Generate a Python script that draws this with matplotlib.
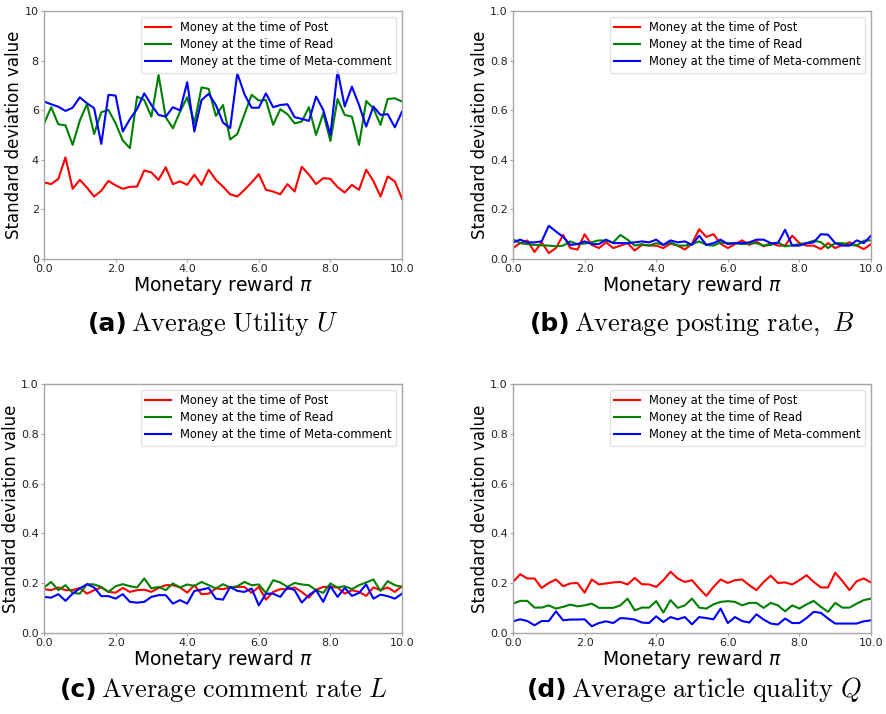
import numpy as np
import matplotlib
matplotlib.use("Agg")
import matplotlib.pyplot as plt

# Monetary reward grid (step 0.2)
reward = np.round(np.arange(51) * 0.2, 1)

series_labels = ["Money at the time of Post",
                 "Money at the time of Read",
                 "Money at the time of Meta-comment"]
series_colors = ["red", "green", "blue"]

# (a) Average utility U
utility_post = [3.09, 3.02, 3.23, 4.10, 2.83, 3.19, 2.88, 2.52, 2.75, 3.15,
                2.97, 2.83, 2.91, 2.92, 3.57, 3.49, 3.19, 3.70, 3.02, 3.13,
                2.99, 3.40, 2.99, 3.60, 3.19, 2.92, 2.61, 2.52, 2.79, 3.09,
                3.42, 2.79, 2.72, 2.61, 3.02, 2.72, 3.72, 3.40, 3.02, 3.26,
                3.23, 2.90, 2.68, 2.99, 2.79, 3.60, 3.15, 2.52, 3.33, 3.13,
                2.43]
utility_read = [5.45, 6.12, 5.43, 5.39, 4.60, 5.58, 6.25, 5.04, 5.92, 6.01,
                5.47, 4.78, 4.47, 6.55, 6.41, 5.74, 7.42, 5.72, 5.27, 5.94,
                6.52, 5.47, 6.92, 6.86, 5.77, 6.21, 4.82, 5.04, 5.84, 6.62,
                6.39, 6.41, 5.41, 6.04, 5.84, 5.47, 5.54, 6.12, 5.00, 5.88,
                4.76, 6.45, 5.81, 5.74, 4.60, 6.37, 6.08, 5.41, 6.45, 6.48,
                6.35]
utility_meta = [6.35, 6.24, 6.14, 5.97, 6.10, 6.52, 6.28, 6.08, 4.64, 6.62,
                6.59, 5.14, 5.64, 6.05, 6.68, 6.21, 5.81, 5.74, 6.12, 5.99,
                7.13, 5.14, 6.41, 6.66, 6.21, 5.50, 5.28, 7.49, 6.64, 6.10,
                6.10, 6.68, 6.12, 6.21, 6.24, 5.72, 5.65, 5.57, 6.55, 6.01,
                5.00, 7.60, 6.15, 6.95, 6.21, 5.34, 6.15, 5.81, 5.84, 5.31,
                5.94]

# (b) Average posting rate B
posting_post = [0.044, 0.064, 0.075, 0.028, 0.067, 0.024, 0.044, 0.097, 0.044, 0.038,
                0.100, 0.057, 0.044, 0.067, 0.044, 0.054, 0.064, 0.034, 0.057, 0.054,
                0.054, 0.044, 0.062, 0.054, 0.038, 0.062, 0.120, 0.089, 0.100, 0.062,
                0.044, 0.060, 0.075, 0.057, 0.071, 0.051, 0.064, 0.054, 0.054, 0.094,
                0.064, 0.054, 0.054, 0.040, 0.064, 0.044, 0.057, 0.067, 0.054, 0.040,
                0.060]
posting_read = [0.080, 0.064, 0.060, 0.057, 0.055, 0.054, 0.051, 0.054, 0.071, 0.060,
                0.062, 0.068, 0.075, 0.074, 0.067, 0.097, 0.078, 0.054, 0.060, 0.054,
                0.064, 0.057, 0.067, 0.054, 0.054, 0.060, 0.071, 0.057, 0.054, 0.067,
                0.064, 0.064, 0.060, 0.062, 0.064, 0.054, 0.057, 0.067, 0.051, 0.055,
                0.060, 0.064, 0.074, 0.068, 0.044, 0.064, 0.064, 0.057, 0.054, 0.074,
                0.075]
posting_meta = [0.067, 0.078, 0.067, 0.067, 0.071, 0.134, 0.111, 0.089, 0.057, 0.060,
                0.071, 0.060, 0.060, 0.078, 0.064, 0.064, 0.064, 0.067, 0.071, 0.067,
                0.078, 0.057, 0.075, 0.067, 0.071, 0.057, 0.094, 0.057, 0.064, 0.078,
                0.060, 0.064, 0.064, 0.067, 0.078, 0.078, 0.064, 0.064, 0.118, 0.054,
                0.054, 0.064, 0.067, 0.100, 0.098, 0.064, 0.054, 0.054, 0.075, 0.064,
                0.094]

# (c) Average comment rate L
comment_post = [0.176, 0.172, 0.183, 0.172, 0.172, 0.181, 0.158, 0.172, 0.183, 0.165,
                0.162, 0.181, 0.165, 0.172, 0.174, 0.165, 0.181, 0.192, 0.192, 0.183,
                0.162, 0.192, 0.156, 0.158, 0.179, 0.176, 0.183, 0.185, 0.185, 0.161,
                0.185, 0.134, 0.165, 0.176, 0.176, 0.183, 0.165, 0.142, 0.174, 0.185,
                0.185, 0.183, 0.158, 0.172, 0.165, 0.149, 0.183, 0.172, 0.183, 0.165,
                0.188]
comment_read = [0.183, 0.205, 0.172, 0.192, 0.161, 0.158, 0.196, 0.195, 0.185, 0.165,
                0.188, 0.196, 0.188, 0.183, 0.219, 0.179, 0.185, 0.172, 0.199, 0.183,
                0.195, 0.189, 0.205, 0.192, 0.179, 0.196, 0.183, 0.188, 0.205, 0.192,
                0.195, 0.161, 0.212, 0.203, 0.185, 0.201, 0.195, 0.192, 0.172, 0.161,
                0.199, 0.183, 0.188, 0.176, 0.192, 0.203, 0.215, 0.169, 0.208, 0.192,
                0.185]
comment_meta = [0.145, 0.142, 0.156, 0.129, 0.158, 0.179, 0.196, 0.183, 0.148, 0.148,
                0.138, 0.156, 0.125, 0.122, 0.125, 0.145, 0.152, 0.152, 0.118, 0.132,
                0.118, 0.169, 0.174, 0.181, 0.138, 0.134, 0.185, 0.169, 0.165, 0.179,
                0.111, 0.158, 0.158, 0.145, 0.183, 0.172, 0.122, 0.152, 0.172, 0.125,
                0.188, 0.145, 0.181, 0.149, 0.161, 0.195, 0.138, 0.154, 0.148, 0.138,
                0.158]

# (d) Average article quality Q
quality_post = [0.205, 0.236, 0.219, 0.219, 0.181, 0.201, 0.215, 0.188, 0.199, 0.201,
                0.162, 0.215, 0.195, 0.199, 0.203, 0.205, 0.195, 0.221, 0.196, 0.195,
                0.185, 0.212, 0.246, 0.219, 0.205, 0.212, 0.179, 0.149, 0.185, 0.215,
                0.201, 0.212, 0.215, 0.192, 0.172, 0.205, 0.230, 0.201, 0.203, 0.195,
                0.212, 0.232, 0.205, 0.183, 0.183, 0.242, 0.209, 0.172, 0.208, 0.219,
                0.203]
quality_read = [0.118, 0.129, 0.129, 0.102, 0.102, 0.111, 0.098, 0.105, 0.114, 0.107,
                0.111, 0.118, 0.101, 0.101, 0.101, 0.111, 0.138, 0.091, 0.102, 0.102,
                0.128, 0.082, 0.132, 0.101, 0.111, 0.138, 0.102, 0.098, 0.115, 0.125,
                0.128, 0.125, 0.111, 0.121, 0.121, 0.101, 0.121, 0.111, 0.087, 0.111,
                0.098, 0.115, 0.129, 0.105, 0.085, 0.121, 0.102, 0.102, 0.118, 0.132,
                0.138]
quality_meta = [0.047, 0.055, 0.048, 0.031, 0.048, 0.048, 0.087, 0.051, 0.054, 0.054,
                0.055, 0.027, 0.040, 0.047, 0.040, 0.060, 0.058, 0.054, 0.042, 0.040,
                0.067, 0.044, 0.064, 0.055, 0.064, 0.035, 0.064, 0.060, 0.055, 0.098,
                0.040, 0.064, 0.048, 0.042, 0.075, 0.054, 0.038, 0.034, 0.058, 0.040,
                0.040, 0.060, 0.085, 0.081, 0.058, 0.038, 0.038, 0.038, 0.038, 0.047,
                0.051]

panels = [
    ("(a)", r"$\mathrm{Average\ Utility}\ U$",
     [utility_post, utility_read, utility_meta], 10, [0, 2, 4, 6, 8, 10], "{:.0f}"),
    ("(b)", r"$\mathrm{Average\ posting\ rate,}\ B$",
     [posting_post, posting_read, posting_meta], 1.0, [0, 0.2, 0.4, 0.6, 0.8, 1.0], "{:.1f}"),
    ("(c)", r"$\mathrm{Average\ comment\ rate}\ L$",
     [comment_post, comment_read, comment_meta], 1.0, [0, 0.2, 0.4, 0.6, 0.8, 1.0], "{:.1f}"),
    ("(d)", r"$\mathrm{Average\ article\ quality}\ Q$",
     [quality_post, quality_read, quality_meta], 1.0, [0, 0.2, 0.4, 0.6, 0.8, 1.0], "{:.1f}"),
]

W, H = 887, 714
fig = plt.figure(figsize=(W / 100, H / 100), dpi=100)

# axes boxes in pixels: left, top, right, bottom
boxes = [(44, 11, 402, 259), (513, 11, 871, 259),
         (44, 384, 402, 633), (513, 384, 871, 633)]
# caption left edge and vertical centre in pixels
captions = [(88, 324), (530, 324), (60, 690), (527, 690)]

spine_gray = "#a6a6a6"
xticks = [0, 2, 4, 6, 8, 10]

for (tag, title, ys, ymax, yticks, yfmt), (l, t, r, b) in zip(panels, boxes):
    ax = fig.add_axes([l / W, 1 - b / H, (r - l) / W, (b - t) / H])
    for y, c, lab in zip(ys, series_colors, series_labels):
        ax.plot(reward, y, color=c, lw=1.5, label=lab)
    ax.set_xlim(0, 10)
    ax.set_ylim(0, ymax)
    ax.set_xticks(xticks)
    ax.set_xticklabels(["{:.1f}".format(v) for v in xticks])
    ax.set_yticks(yticks)
    ax.set_yticklabels([yfmt.format(v) for v in yticks])
    for s in ax.spines.values():
        s.set_color(spine_gray)
        s.set_linewidth(1.0)
    ax.tick_params(axis="both", length=2.5, width=0.8, color=spine_gray,
                   pad=1.2, labelsize=8, labelcolor="#222222")
    ax.set_xlabel(r"Monetary reward $\pi$", fontsize=13.5, labelpad=0,
                  math_fontfamily="dejavusans")
    ax.set_ylabel("Standard deviation value", fontsize=12, labelpad=1)
    ax.legend(loc="upper right", fontsize=8.3, framealpha=0.8,
              edgecolor="#dddddd", fancybox=True, borderaxespad=0.5,
              labelspacing=0.35, handlelength=2.2)

fig.canvas.draw()
renderer = fig.canvas.get_renderer()
for (tag, title, *_), (cx, cy) in zip(panels, captions):
    t1 = fig.text(cx / W, 1 - cy / H, tag, fontsize=18, fontweight="bold",
                  ha="left", va="center", family="DejaVu Sans")
    bb = t1.get_window_extent(renderer)
    fig.text((bb.x1 + 3) / W, 1 - cy / H, title, fontsize=19,
             ha="left", va="center", math_fontfamily="cm")

fig.savefig("out.png", dpi=100)
